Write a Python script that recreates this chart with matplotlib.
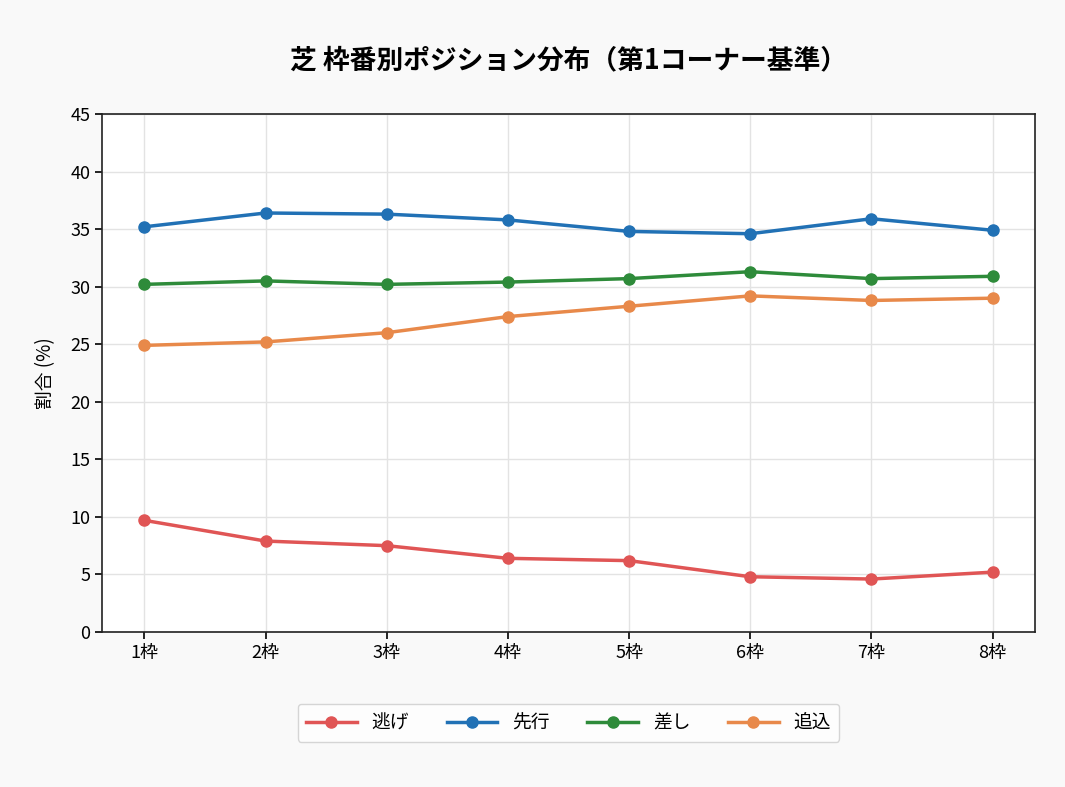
import matplotlib
matplotlib.use("Agg")
import matplotlib.pyplot as plt

plt.rcParams['font.family'] = ['Noto Sans CJK JP', 'DejaVu Sans']

frames = ["1枠", "2枠", "3枠", "4枠", "5枠", "6枠", "7枠", "8枠"]
nige = [9.7, 7.9, 7.5, 6.4, 6.2, 4.8, 4.6, 5.2]
senko = [35.2, 36.4, 36.3, 35.8, 34.8, 34.6, 35.9, 34.9]
sashi = [30.2, 30.5, 30.2, 30.4, 30.7, 31.3, 30.7, 30.9]
oikomi = [24.9, 25.2, 26.0, 27.4, 28.3, 29.2, 28.8, 29.0]

series = [
    ("逃げ", nige, "#e05555"),
    ("先行", senko, "#2171b5"),
    ("差し", sashi, "#2e8b3a"),
    ("追込", oikomi, "#e8894a"),
]

fig = plt.figure(figsize=(10.65, 7.87), dpi=100, facecolor="#f9f9f9")
ax = fig.add_axes([102 / 1065, 1 - 632 / 787, (1035 - 102) / 1065, (632 - 114) / 787])
ax.set_facecolor("white")

x = list(range(len(frames)))
for name, vals, color in series:
    ax.plot(x, vals, marker="o", color=color, linewidth=2.5, markersize=8, label=name)

ax.set_ylim(0, 45)
ax.set_yticks(range(0, 46, 5))
ax.set_xticks(x)
ax.set_xticklabels(frames)
ax.tick_params(labelsize=13, length=5, width=1.2)
ax.grid(True, color="#e3e3e3", linewidth=1)
ax.set_axisbelow(True)
for s in ax.spines.values():
    s.set_linewidth(1.2)
    s.set_color("#222222")

ax.set_ylabel("割合 (%)", fontsize=13.5, labelpad=10)
ax.set_title("芝 枠番別ポジション分布（第1コーナー基準）", fontsize=19.3, fontweight="bold", pad=33)

ax.legend(loc="center", bbox_to_anchor=(0.5, -0.175), ncol=4, fontsize=13.5,
          frameon=True, edgecolor="#cccccc", handlelength=2.7, columnspacing=2.0,
          borderpad=0.45)

fig.savefig("out.png", dpi=100, facecolor=fig.get_facecolor())
